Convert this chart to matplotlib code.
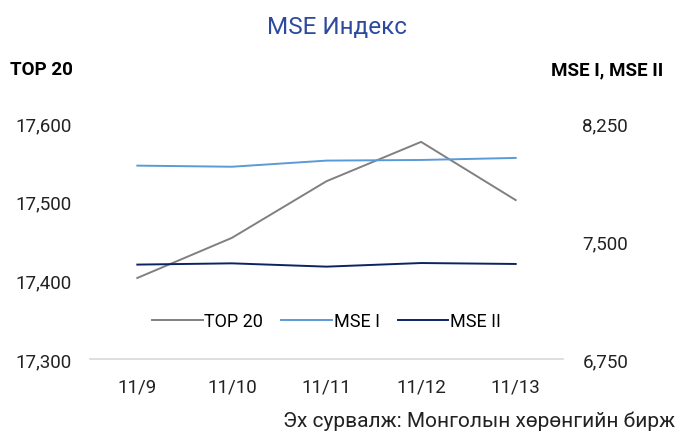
import matplotlib
matplotlib.use('Agg')
import matplotlib.pyplot as plt
from matplotlib.ticker import FuncFormatter

plt.rcParams['font.family'] = ['Roboto', 'DejaVu Sans']

# data
dates = ['11/9', '11/10', '11/11', '11/12', '11/13']
top20 = [17403, 17454, 17526, 17576, 17502]
mse1 = [7979, 7972, 8011, 8015, 8028]
mse2 = [7350, 7358, 7337, 7360, 7354]

left_ticks = [17300, 17400, 17500, 17600]
right_ticks = [6750, 7500, 8250]

C_TOP = '#808080'
C_MSE1 = '#5B9BD5'
C_MSE2 = '#0B2461'
C_TITLE = '#2E4A9E'

fig = plt.figure(figsize=(6.78, 4.35), dpi=100)
ax = fig.add_axes([90 / 678, 1 - 360 / 435, 473 / 678, 236 / 435])
ax2 = ax.twinx()

x = list(range(len(dates)))
l1, = ax.plot(x, top20, color=C_TOP, lw=1.4, label='TOP 20')
l2, = ax2.plot(x, mse1, color=C_MSE1, lw=1.4, label='MSE I')
l3, = ax2.plot(x, mse2, color=C_MSE2, lw=1.4, label='MSE II')

ax.set_xlim(-0.5, len(dates) - 0.5)
ax.set_ylim(17300, 17600)
ax2.set_ylim(6750, 8250)
ax.set_yticks(left_ticks)
ax2.set_yticks(right_ticks)
fmt = FuncFormatter(lambda v, p: f'{v:,.0f}')
ax.yaxis.set_major_formatter(fmt)
ax2.yaxis.set_major_formatter(fmt)
ax.set_xticks(x)
ax.set_xticklabels(dates)

for a in (ax, ax2):
    for s in a.spines.values():
        s.set_visible(False)
    a.tick_params(length=0, labelsize=13.5, colors='#222222')
ax.spines['bottom'].set_visible(True)
ax.spines['bottom'].set_color('#D9D9D9')
ax.spines['bottom'].set_linewidth(1.2)
ax.tick_params(axis='y', pad=13)
ax2.tick_params(axis='y', pad=14)
ax.tick_params(axis='x', pad=13)

ax.legend(handles=[l1, l2, l3], loc='center', bbox_to_anchor=(0.5, 0.16),
          ncol=3, frameon=False, fontsize=13, handlelength=2.8,
          handletextpad=0.1, columnspacing=1.0)

fig.text(337 / 678, 1 - 27 / 435, 'MSE Индекс', color=C_TITLE, fontsize=17.5,
         ha='center', va='center')
fig.text(10 / 678, 1 - 70 / 435, 'TOP 20', fontsize=13.5, fontweight='bold',
         ha='left', va='center')
fig.text(663 / 678, 1 - 70 / 435, 'MSE I, MSE II', fontsize=13.5, fontweight='bold',
         ha='right', va='center')
fig.text(675 / 678, 1 - 421 / 435, 'Эх сурвалж: Монголын хөрөнгийн бирж',
         fontsize=15, ha='right', va='center', color='#222222')

fig.savefig('out.png', dpi=100)
